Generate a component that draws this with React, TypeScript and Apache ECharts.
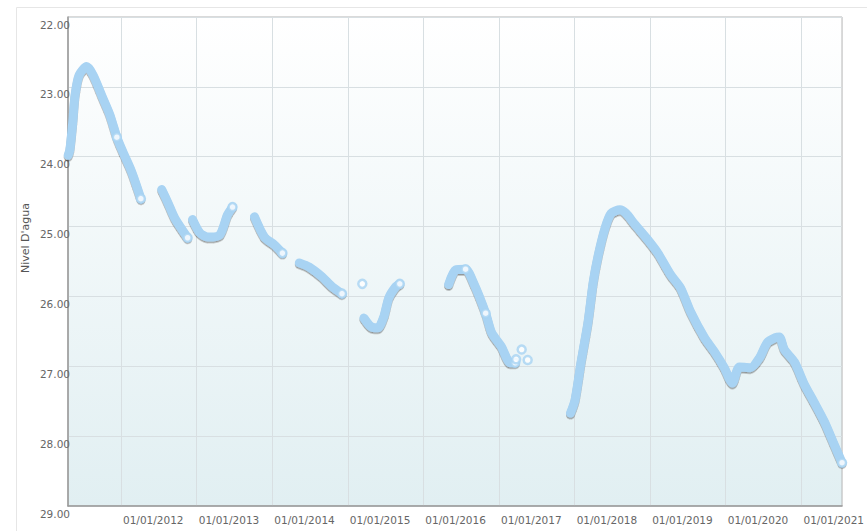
import React, { useEffect, useRef } from "react";
import * as echarts from "echarts";

type Pt = [string, number];

const yAxisTitle = "Nivel D'agua";
const yTicks = [22, 23, 24, 25, 26, 27, 28, 29];
const yearTicks = ["2012-01-01", "2013-01-01", "2014-01-01", "2015-01-01", "2016-01-01", "2017-01-01", "2018-01-01", "2019-01-01", "2020-01-01", "2021-01-01"];
const xMin = "2011-04-20";
const xMax = "2021-07-16";

const seg2011: Pt[] = [
  ["2011-04-21", 23.98], ["2011-04-29", 23.9], ["2011-05-13", 23.5], ["2011-05-24", 23.12],
  ["2011-06-13", 22.83], ["2011-07-19", 22.71], ["2011-08-19", 22.83], ["2011-10-05", 23.16],
  ["2011-11-08", 23.4], ["2011-12-12", 23.72], ["2012-01-10", 23.93], ["2012-02-22", 24.22],
  ["2012-04-06", 24.6],
];
const seg2012: Pt[] = [["2012-07-16", 24.47], ["2012-08-15", 24.66], ["2012-09-17", 24.88], ["2012-11-18", 25.16]];
const seg2013a: Pt[] = [
  ["2012-12-12", 24.9], ["2013-01-16", 25.09], ["2013-02-23", 25.15], ["2013-04-22", 25.12],
  ["2013-05-30", 24.83], ["2013-06-23", 24.72],
];
const seg2013b: Pt[] = [["2013-10-07", 24.86], ["2013-11-24", 25.15], ["2014-01-11", 25.26], ["2014-02-19", 25.38]];
const seg2014: Pt[] = [["2014-05-12", 25.52], ["2014-06-29", 25.58], ["2014-08-30", 25.72], ["2014-10-17", 25.86], ["2014-12-04", 25.96]];
const seg2015: Pt[] = [
  ["2015-03-20", 26.31], ["2015-04-22", 26.43], ["2015-05-26", 26.45], ["2015-06-24", 26.29],
  ["2015-07-18", 26.02], ["2015-08-21", 25.86], ["2015-09-09", 25.82],
];
const seg2016: Pt[] = [
  ["2016-05-02", 25.83], ["2016-06-05", 25.62], ["2016-07-23", 25.61], ["2016-08-31", 25.81],
  ["2016-10-28", 26.24], ["2016-11-26", 26.52], ["2017-01-12", 26.72], ["2017-02-24", 26.95],
  ["2017-03-20", 26.95],
];
const seg2018: Pt[] = [
  ["2017-12-12", 27.67], ["2018-01-03", 27.48], ["2018-02-01", 26.94], ["2018-03-07", 26.36],
  ["2018-04-01", 25.79], ["2018-04-25", 25.41], ["2018-05-28", 25.02], ["2018-06-26", 24.81],
  ["2018-08-08", 24.76], ["2018-09-06", 24.81], ["2018-10-19", 24.97], ["2018-12-21", 25.19],
  ["2019-02-07", 25.38], ["2019-04-10", 25.69], ["2019-05-28", 25.88], ["2019-07-15", 26.22],
  ["2019-09-20", 26.59], ["2019-11-07", 26.79], ["2019-12-25", 27.02], ["2020-02-02", 27.24],
  ["2020-03-07", 27.01], ["2020-04-29", 27.02], ["2020-06-12", 26.88], ["2020-07-20", 26.66],
  ["2020-08-28", 26.59], ["2020-09-16", 26.58], ["2020-10-10", 26.76], ["2020-11-28", 26.94],
  ["2021-01-15", 27.26], ["2021-03-04", 27.52], ["2021-04-21", 27.79], ["2021-06-08", 28.12],
  ["2021-07-16", 28.38],
];
const isolatedReadings: Pt[] = [
  ["2015-03-12", 25.82], ["2017-03-24", 26.9], ["2017-04-20", 26.76], ["2017-05-19", 26.91],
];
const midMarkers: Pt[] = [["2011-12-12", 23.72], ["2016-07-23", 25.61], ["2016-10-28", 26.24]];

const segments = [seg2011, seg2012, seg2013a, seg2013b, seg2014, seg2015, seg2016, seg2018];

const BLUE = "#a8d3f3";
const ts = (d: string) => Date.parse(d);

export default function App() {
  const ref = useRef<HTMLDivElement>(null);
  useEffect(() => {
    if (!ref.current) return;
    const chart = echarts.init(ref.current, undefined, { renderer: "svg" });
    const lineData: [number, number | null][] = [];
    segments.forEach((s, i) => {
      if (i > 0) lineData.push([ts(s[0][0]) - 86400000, null]);
      s.forEach((p) => lineData.push([ts(p[0]), p[1]]));
    });
    const markerData = [
      ...segments.map((s) => s[s.length - 1]),
      ...isolatedReadings,
      ...midMarkers,
    ].map((p) => [ts(p[0]), p[1]]);
    const yearValues = yearTicks.map(ts);
    chart.setOption({
      animation: false,
      graphic: [
        {
          type: "rect",
          shape: { x: 16.5, y: 7.5, width: 900, height: 600 },
          style: { fill: "none", stroke: "#e6e6e6", lineWidth: 1 },
          z: -10,
        },
        {
          type: "text",
          x: 25,
          y: 238,
          rotation: Math.PI / 2,
          style: {
            text: yAxisTitle,
            fill: "#555",
            fontSize: 11,
            fontFamily: "DejaVu Sans",
            align: "center",
            verticalAlign: "middle",
          },
        },
      ],
      grid: {
        left: 68,
        top: 17,
        right: 22,
        bottom: 25,
        show: true,
        borderColor: "#b5b5b5",
        borderWidth: 1,
        backgroundColor: new echarts.graphic.LinearGradient(0, 0, 0, 1, [
          { offset: 0, color: "#ffffff" },
          { offset: 1, color: "#e1eff2" },
        ]),
      },
      xAxis: {
        type: "value",
        min: ts(xMin),
        max: ts(xMax),
        axisLine: { show: true, lineStyle: { color: "#9a9a9a", width: 1.5 } },
        axisTick: { show: false, customValues: yearValues },
        splitLine: { show: true, lineStyle: { color: "#d8dfe2", width: 1 } },
        axisLabel: {
          customValues: yearValues,
          formatter: (v: number) => "01/01/" + new Date(v).getUTCFullYear(),
          align: "left",
          padding: [0, 0, 0, 2],
          margin: 8,
          color: "#666",
          fontSize: 10.5,
          fontFamily: "DejaVu Sans",
        },
      },
      yAxis: {
        type: "value",
        inverse: true,
        min: yTicks[0],
        max: yTicks[yTicks.length - 1],
        interval: 1,
        axisLine: { show: true, lineStyle: { color: "#9a9a9a", width: 1.5 } },
        axisTick: { show: false },
        splitLine: { show: true, lineStyle: { color: "#d8dfe2", width: 1 } },
        axisLabel: {
          formatter: (v: number) => v.toFixed(2),
          margin: -2,
          verticalAlign: "top",
          padding: [2, 0, 0, 0],
          color: "#666",
          fontSize: 10.5,
          fontFamily: "DejaVu Sans",
        },
      },
      series: [
        {
          type: "line",
          data: lineData,
          connectNulls: false,
          showSymbol: false,
          smooth: 0.25,
          lineStyle: {
            color: BLUE,
            width: 9,
            cap: "round",
            join: "round",
            shadowColor: "rgba(40,40,40,0.45)",
            shadowBlur: 1.5,
            shadowOffsetY: 1.5,
          },
          z: 2,
        },
        {
          type: "scatter",
          data: markerData,
          symbol: "circle",
          symbolSize: 8,
          itemStyle: { color: "#ffffff", borderColor: BLUE, borderWidth: 2.5 },
          z: 3,
        },
      ],
    });
    return () => chart.dispose();
  }, []);
  return (
    <div
      ref={ref}
      style={{ position: "fixed", left: 0, top: 0, width: 867, height: 531, background: "#fff" }}
    />
  );
}
